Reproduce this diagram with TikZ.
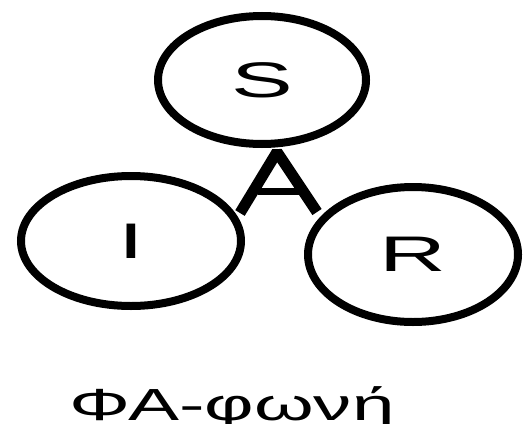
\documentclass[tikz,border=0pt]{standalone}
\usepackage{fontspec}
\setmainfont{Liberation Sans}
\usetikzlibrary{shapes.geometric}
\tikzset{
  blob/.style={draw=black, line width=8pt, ellipse, inner sep=0pt,
    font=\fontsize{50}{60}\selectfont},
  aleg/.style={draw=black, line width=11pt, line join=bevel},
  abar/.style={draw=black, line width=7pt}
}
\newcommand{\wide}[1]{\scalebox{1.85}[1]{#1}}
\begin{document}
\begin{tikzpicture}[x=1pt,y=-1pt]
\useasboundingbox (0,0) rectangle (526,423);
\fill[white] (0,0) rectangle (526,423);
\node[blob, minimum width=208pt, minimum height=128pt] (S) at (262,80) {\wide{S}};
\node[blob, minimum width=220pt, minimum height=130pt] (I) at (131,241) {\wide{I}};
\node[blob, minimum width=210pt, minimum height=135pt] (R) at (413,254.5) {\wide{R}};
\coordinate (aL) at (240,213);
\coordinate (apex) at (277,152);
\coordinate (aR) at (317,212);
\coordinate (bL) at (258,191);
\coordinate (bR) at (299,191);
\draw[aleg] (aL) -- (apex) -- (aR);
\draw[abar] (bL) -- (bR);
\node[anchor=base, inner sep=0pt, font=\fontsize{45}{54}\selectfont] (cap) at (232,420) {\scalebox{1.7}[1]{ΦΑ-φωνή}};
\end{tikzpicture}
\end{document}
